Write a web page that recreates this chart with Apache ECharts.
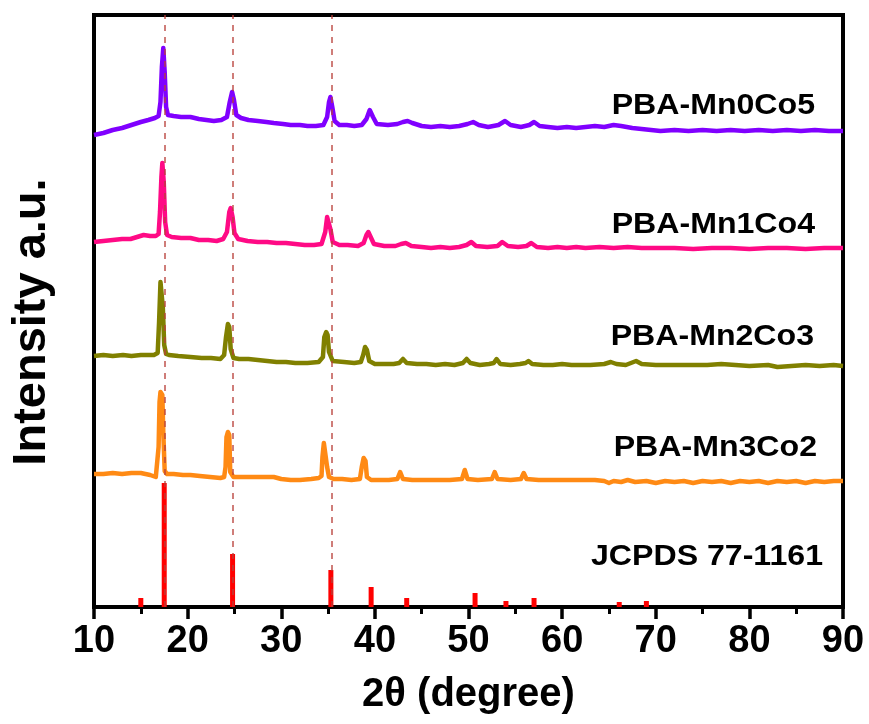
<!DOCTYPE html>
<html>
<head>
<meta charset="utf-8">
<script src="https://cdn.jsdelivr.net/npm/echarts@6/dist/echarts.min.js"></script>
<style>html,body{margin:0;padding:0;background:#fff;}#c{width:869px;height:724px;}</style>
</head>
<body>
<div id="c"></div>
<script>
// x axis ticks
const xTicks = [10, 20, 30, 40, 50, 60, 70, 80, 90];
const seriesNames = ['PBA-Mn0Co5', 'PBA-Mn1Co4', 'PBA-Mn2Co3', 'PBA-Mn3Co2', 'JCPDS 77-1161'];
const refLines = [17.6, 24.8, 35.4];

// offset (stacked) intensity traces, [2theta, intensity]
const mn0co5 = [[10,472],[11,474],[12,477],[13,479],[14,482],[15,485],[15.8,487],[16.5,489],[16.9,491],[17.1,505],[17.25,540],[17.4,559],[17.55,535],[17.7,500],[17.9,492],[18.5,491],[19.3,490],[20.3,490],[21.2,488],[22,487],[22.8,486],[23.6,487],[24.2,490],[24.5,505],[24.75,515],[24.95,507],[25.2,492],[25.7,489],[26.5,487],[27.5,486],[28.4,485],[29.2,484],[30.2,483],[31,482],[32,482],[32.8,481],[33.7,481],[34.5,482],[34.9,490],[35.1,505],[35.25,510],[35.45,500],[35.7,486],[36.2,482],[37,482],[37.8,481],[38.6,482],[39.1,488],[39.45,497],[39.8,490],[40.2,483],[41.4,482],[42.4,483],[43.0,485],[43.5,486],[44.0,484],[45,481],[46,480],[47,481],[48,480],[49,481],[49.9,483],[50.5,485],[51.1,482],[52.1,480],[53.2,482],[53.9,486],[54.5,482],[55.6,480],[56.5,482],[57.0,485],[57.6,481],[58.5,480],[59.5,479],[60.5,480],[61.5,479],[62.5,480],[63.5,481],[64.5,480],[65.5,482],[66.3,481],[67.5,479],[68.5,478],[69.5,477],[70.5,476],[72,477],[73.5,476],[75,477],[76.5,476],[78,477],[79.5,476],[81,477],[82.5,476],[84,477],[85.5,476],[87,477],[88.5,476],[90,476]];

const mn1co4 = [[10,365],[11,366],[12,367],[13,368],[13.9,368],[14.6,370],[15.3,372],[16,371],[16.6,371],[16.9,373],[17.05,395],[17.2,430],[17.3,444],[17.45,425],[17.6,385],[17.8,372],[18.3,370],[19.3,369],[20.3,369],[21.2,367],[22.2,367],[23.1,366],[23.8,368],[24.2,375],[24.45,395],[24.6,399],[24.8,390],[25.0,374],[25.4,368],[26.4,366],[27.5,365],[28.5,365],[29.5,364],[30.5,364],[31.5,363],[32.5,362],[33.5,362],[34.3,363],[34.7,375],[34.9,390],[35.05,391],[35.25,378],[35.5,365],[36.2,362],[37.1,362],[38.2,361],[38.8,364],[39.1,372],[39.3,375],[39.55,370],[39.9,363],[41,361],[42.2,361],[42.8,363],[43.3,364],[43.9,361],[45,360],[46,359],[47,360],[48,359],[49,360],[49.8,362],[50.3,365],[50.8,361],[52,360],[53.1,361],[53.6,365],[54.2,361],[55.3,360],[56.2,361],[56.7,364],[57.3,360],[58.5,359],[59.5,360],[60.5,359],[61.5,360],[62.5,359],[64,360],[65.5,359],[67,360],[68.5,359],[70,359],[72,359],[74,358],[76,359],[78,359],[80,358],[82,359],[84,359],[86,358],[88,359],[90,359]];

const mn2co3 = [[10,251],[11,252],[12,251],[13.1,252],[14,251],[15,252],[16.4,252],[16.8,254],[16.95,285],[17.1,325],[17.2,327],[17.35,300],[17.5,262],[17.7,253],[18,252],[19,251],[20.3,250],[21.5,249],[22.5,249],[23.5,248],[23.9,252],[24.1,270],[24.3,283],[24.45,280],[24.6,258],[24.9,249],[25.5,248],[26.5,248],[27.5,247],[28.5,246],[29.5,245],[30.5,245],[31.5,244],[32.8,244],[34,245],[34.45,250],[34.6,270],[34.8,275],[34.95,272],[35.1,255],[35.5,246],[36.7,245],[37.8,244],[38.5,245],[38.75,252],[38.95,260],[39.15,257],[39.4,246],[40,243],[41,243],[42,243],[42.6,244],[43.0,248],[43.4,244],[44.5,243],[45.5,243],[46.5,242],[47.5,243],[48.5,242],[49.4,244],[49.8,248],[50.2,244],[51.2,242],[52.2,243],[52.7,244],[53.0,248],[53.4,243],[54.5,242],[55.5,243],[56.1,244],[56.4,246],[56.8,243],[58,242],[59,242],[60,243],[61,242],[62,242],[63,242],[64.5,243],[65.2,245],[65.8,243],[66.8,242],[67.9,246],[68.5,243],[70,242],[72,242],[74,242],[75.5,242],[77,243],[78.5,242],[80,241],[82,242],[83,240],[84.5,241],[86,242],[87.5,241],[89,242],[90,241]];

const mn3co2 = [[10,133],[11,133],[12,134],[13,133],[14,134],[15,134],[16,132],[16.6,130],[16.8,131],[16.9,160],[17.0,205],[17.1,215],[17.3,212],[17.4,175],[17.55,136],[17.8,133],[18.5,133],[19.5,132],[20.3,132],[21.3,131],[22.4,130],[23.5,129],[23.9,130],[24.05,140],[24.15,170],[24.3,175],[24.45,172],[24.55,135],[24.9,130],[26,130],[27,130],[28,130],[29.2,130],[30,128],[31,127],[32,127],[33.2,128],[34,129],[34.3,131],[34.4,150],[34.55,164],[34.75,162],[34.9,140],[35.1,130],[35.6,128],[36.5,128],[37.5,127],[38.4,128],[38.6,140],[38.8,149],[39.0,146],[39.15,130],[39.6,127],[40.5,127],[41.5,127],[42.4,128],[42.7,135],[43.0,128],[44,127],[45,127],[46,127],[47,127],[48,127],[49.3,128],[49.6,137],[49.9,128],[51,127],[52.5,128],[52.8,135],[53.1,128],[54.5,127],[55.6,128],[55.9,134],[56.2,128],[57.5,127],[59,127],[60.5,127],[62,127],[63.5,127],[64.5,126],[65,124],[65.5,126],[66.3,125],[67,127],[67.8,125],[69,126],[70,124],[71,126],[72,125],[73,126],[74,124],[75,126],[76,125],[77,126],[78,124],[79,126],[80,125],[81,126],[82,124],[83,126],[84,125],[85,126],[86,124],[87,126],[88,125],[89,126],[90,126]];

// reference pattern (stick positions and heights)
const jcpdsX = [15.0, 17.5, 24.8, 35.3, 39.6, 43.4, 50.7, 54.0, 57.0, 66.1, 69.0];
const jcpdsY = [9, 124, 53, 37, 20, 9, 14, 6, 9, 5, 6];

const colors = ['#8000ff', '#ff0a85', '#808000', '#ff8a14', '#ff0000'];
const FONT = '"Liberation Sans", Arial, Helvetica, sans-serif';

const chart = echarts.init(document.getElementById('c'), null, {renderer: 'canvas'});

const traces = [mn0co5, mn1co4, mn2co3, mn3co2];
const lineSeries = traces.map((d, i) => ({
  name: seriesNames[i],
  type: 'line',
  data: d,
  showSymbol: false,
  symbol: 'none',
  lineStyle: {color: colors[i], width: 4.5, join: 'round'},
  z: 3
}));

const barSeries = {
  name: seriesNames[4],
  type: 'bar',
  data: jcpdsX.map((x, i) => [x, jcpdsY[i]]),
  barWidth: 5,
  itemStyle: {color: colors[4]},
  z: 2,
  markLine: {
    silent: true,
    symbol: 'none',
    label: {show: false},
    lineStyle: {color: '#b8403a', type: [6, 6], width: 1.5, opacity: 0.9},
    data: refLines.map(v => ({xAxis: v})),
    z: 5
  }
};

const labelRightX = [815, 815, 814, 817, 823];
const labelY = [106, 225, 337, 448, 557];

const option = {
  animation: false,
  backgroundColor: '#fff',
  grid: {left: 94, right: 26, top: 15, bottom: 117, show: true, borderColor: '#000', borderWidth: 4, backgroundColor: 'transparent'},
  xAxis: {
    type: 'value', min: xTicks[0], max: xTicks[xTicks.length - 1], interval: 10,
    axisLine: {show: true, onZero: false, lineStyle: {color: '#000', width: 4}},
    axisTick: {show: true, length: 12, lineStyle: {color: '#000', width: 3.5}},
    minorTick: {show: true, splitNumber: 2, length: 7, lineStyle: {color: '#000', width: 3}},
    splitLine: {show: false},
    axisLabel: {color: '#000', fontSize: 38, fontWeight: 'bold', fontFamily: FONT, margin: 16},
    name: '2\u03b8 (degree)', nameLocation: 'middle', nameGap: 68,
    nameTextStyle: {color: '#000', fontSize: 40, fontWeight: 'bold', fontFamily: FONT}
  },
  yAxis: {
    type: 'value', min: 0, max: 592,
    axisLine: {show: false}, axisTick: {show: false}, axisLabel: {show: false}, splitLine: {show: false}
  },
  series: [barSeries].concat(lineSeries),
  graphic: [
    {type: 'text', x: 32, y: 322, rotation: Math.PI / 2,
     style: {text: 'Intensity a.u.', font: 'bold 47px ' + FONT, fill: '#000', textAlign: 'center', textVerticalAlign: 'middle'}}
  ].concat(seriesNames.map((n, i) => ({
    type: 'text', x: labelRightX[i], y: labelY[i], scaleX: 1.07,
    style: {text: n, font: 'bold 30px ' + FONT, fill: '#000', textAlign: 'right', textVerticalAlign: 'middle'}
  })))
};
chart.setOption(option);
</script>
</body>
</html>
